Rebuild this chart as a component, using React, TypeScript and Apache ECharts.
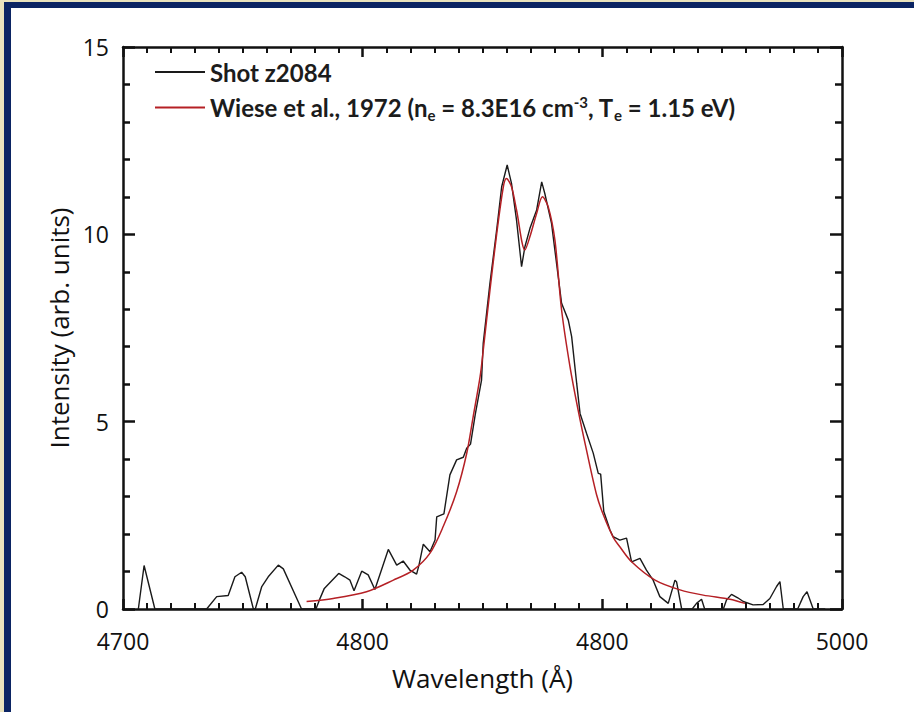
import React, { useEffect, useRef } from "react";
import * as echarts from "echarts";

const shotName = "Shot z2084";
const fitName = "Wiese et al., 1972 (ne = 8.3E16 cm-3, Te = 1.15 eV)";

const xTickValues = [4700, 4800, 4900, 5000];
const xTickLabels = ["4700", "4800", "4800", "5000"];
const yTickLabels = ["0", "5", "10", "15"];

const shotX = [
  4706.4, 4708.8, 4713.3, 4734.9, 4739.1, 4743.9, 4746.7, 4749.5, 4751.0, 4754.4,
  4755.2, 4757.9, 4760.6, 4764.8, 4766.9, 4774.5, 4780.5, 4782.0, 4784.0, 4790.0,
  4792.5, 4794.7, 4796.4, 4799.6, 4802.3, 4805.1, 4810.7, 4814.2, 4816.9, 4819.7,
  4822.5, 4823.5, 4825.3, 4828.1, 4830.2, 4830.9, 4833.9, 4836.4, 4839.2, 4842.0,
  4843.4, 4845.0, 4847.0, 4849.6, 4850.3, 4853.1, 4855.9, 4858.0, 4860.3, 4862.1,
  4864.2, 4866.3, 4867.7, 4869.8, 4872.6, 4874.7, 4876.0, 4878.8, 4881.6, 4883.0,
  4885.8, 4887.2, 4889.3, 4890.7, 4893.4, 4896.2, 4898.3, 4899.3, 4900.6, 4903.2,
  4904.5, 4907.3, 4910.1, 4912.2, 4915.7, 4918.4, 4921.2, 4924.0, 4927.5, 4930.3,
  4931.0, 4933.1, 4937.5, 4939.3, 4941.4, 4942.7, 4950.5, 4951.8, 4953.9, 4956.5,
  4958.8, 4962.9, 4967.1, 4969.9, 4972.7, 4974.1, 4975.5, 4981.5, 4983.8, 4985.4,
  4988.0, 4993.0,
];
const shotY = [
  0, 1.16, 0, 0, 0.33, 0.36, 0.86, 0.98, 0.86, 0,
  0, 0.6, 0.86, 1.17, 1.07, 0, 0, 0.25, 0.55, 0.95,
  0.86, 0.77, 0.49, 1.01, 0.91, 0.52, 1.59, 1.17, 1.28, 1.04,
  0.93, 1.17, 1.73, 1.53, 1.84, 2.46, 2.54, 3.58, 3.98, 4.05,
  4.29, 4.4, 5.2, 6.11, 7.09, 8.69, 10.11, 11.27, 11.85, 11.36,
  10.38, 9.14, 9.67, 10.16, 10.65, 11.4, 11.09, 10.29, 8.87, 8.16,
  7.71, 7.27, 6.02, 5.22, 4.69, 4.16, 3.62, 3.6, 2.6, 2.11,
  1.93, 1.84, 1.89, 1.26, 1.35, 1.04, 0.77, 0.33, 0.15, 0.77,
  0.72, 0, 0, 0.15, 0.26, 0, 0, 0.24, 0.39, 0.3,
  0.2, 0.11, 0.12, 0.28, 0.6, 0.73, 0, 0, 0.33, 0.46,
  0, 0,
];

const fitX = [
  4776.6, 4787.7, 4801.6, 4812.8, 4821.1, 4828.1, 4833.6, 4839.2, 4843.4, 4846.1,
  4849.0, 4850.3, 4853.1, 4855.9, 4858.7, 4860.0, 4862.1, 4864.2, 4867.7, 4869.8,
  4872.6, 4875.0, 4877.4, 4880.2, 4883.0, 4886.5, 4889.9, 4893.4, 4897.6, 4900.5,
  4904.5, 4907.3, 4912.2, 4922.0, 4932.4, 4942.1, 4953.2, 4959.5,
];
const fitY = [
  0.2, 0.28, 0.46, 0.77, 1.04, 1.49, 2.2, 3.13, 4.15, 5.13,
  6.2, 6.9, 8.5, 10.0, 11.27, 11.49, 11.27, 10.65, 9.58, 9.94,
  10.56, 11.0, 10.74, 9.85, 7.98, 6.47, 5.31, 4.24, 3.05, 2.5,
  1.92, 1.66, 1.26, 0.77, 0.51, 0.37, 0.26, 0.15,
];

const labelFont = "'Open Sans', 'DejaVu Sans', sans-serif";
const legendFont = "Lato, 'Open Sans', sans-serif";
const ink = "#111111";

export default function App() {
  const ref = useRef<HTMLDivElement>(null);
  useEffect(() => {
    if (!ref.current) return;
    const chart = echarts.init(ref.current, undefined, { renderer: "svg" });
    const shotData = shotX.map((x, i) => [x, shotY[i]]);
    const fitData = fitX.map((x, i) => [x, fitY[i]]);
    const tick = (len: number, w: number) => ({
      show: true,
      inside: true,
      length: len,
      lineStyle: { color: ink, width: w },
    });
    const minor = (n: number, len: number, w: number) => ({
      show: true,
      splitNumber: n,
      length: len,
      lineStyle: { color: ink, width: w },
    });
    const line = { show: true, onZero: false, lineStyle: { color: ink, width: 2.5 } };
    const legendText = { fontFamily: legendFont, fontWeight: "bold", color: "#1c1c1c" };
    chart.setOption({
      animation: false,
      backgroundColor: "#ffffff",
      graphic: [
        { type: "rect", left: 0, top: 0, shape: { width: 914, height: 3 }, style: { fill: "#e9e2bd" }, z: 100 },
        { type: "rect", left: 0, top: 0, shape: { width: 4, height: 712 }, style: { fill: "#e9e2bd" }, z: 100 },
        { type: "rect", left: 4, top: 2, shape: { width: 910, height: 6 }, style: { fill: "#0b2463" }, z: 101 },
        { type: "rect", left: 4, top: 2, shape: { width: 7, height: 710 }, style: { fill: "#0b2463" }, z: 101 },
      ],
      grid: { left: 123, top: 47, right: 72, bottom: 103, containLabel: false },
      legend: {
        orient: "vertical",
        left: 150,
        top: 55,
        icon: "rect",
        itemWidth: 50,
        itemHeight: 2,
        itemGap: 10,
        data: [
          { name: shotName, itemStyle: { color: "#1a1a1a" } },
          { name: fitName, itemStyle: { color: "#b52025" } },
        ],
        formatter: (name: string) =>
          name === shotName
            ? "{t|Shot z2084}"
            : "{t|Wiese et al., 1972 (n}{sub|e}{t| = 8.3E16 cm}{sup|-3}{t|, T}{sub|e}{t| = 1.15 eV)}",
        textStyle: {
          rich: {
            t: { ...legendText, fontSize: 24, lineHeight: 29 },
            sub: { ...legendText, fontSize: 15, padding: [14, 0, 0, 0] },
            sup: { ...legendText, fontSize: 15, padding: [0, 0, 12, 0] },
          },
        },
      },
      xAxis: [
        {
          type: "value",
          min: 4700,
          max: 5000,
          interval: 100,
          position: "bottom",
          name: "Wavelength (Å)",
          nameLocation: "middle",
          nameGap: 56,
          nameTextStyle: { fontFamily: labelFont, fontSize: 26, color: ink },
          axisLine: line,
          axisTick: tick(10, 2.5),
          minorTick: minor(10, 6, 2),
          axisLabel: {
            margin: 22,
            lineHeight: 20,
            fontFamily: labelFont,
            fontSize: 23,
            color: ink,
            formatter: (v: number) => {
              const i = xTickValues.indexOf(Math.round(v));
              return i >= 0 ? xTickLabels[i] : "";
            },
          },
          splitLine: { show: false },
        },
        {
          type: "value",
          min: 4700,
          max: 5000,
          interval: 100,
          position: "top",
          axisLine: line,
          axisTick: tick(10, 2.5),
          minorTick: minor(10, 6, 2),
          axisLabel: { show: false },
          splitLine: { show: false },
        },
      ],
      yAxis: [
        {
          type: "value",
          min: 0,
          max: 15,
          interval: 5,
          position: "left",
          name: "Intensity (arb. units)",
          nameLocation: "middle",
          nameGap: 51,
          nameTextStyle: { fontFamily: labelFont, fontSize: 26, color: ink },
          axisLine: line,
          axisTick: tick(12, 2.5),
          minorTick: minor(5, 7, 2.5),
          axisLabel: {
            margin: 14,
            lineHeight: 20,
            fontFamily: labelFont,
            fontSize: 23,
            color: ink,
            formatter: (v: number) => yTickLabels[Math.round(v / 5)] ?? "",
          },
          splitLine: { show: false },
        },
        {
          type: "value",
          min: 0,
          max: 15,
          interval: 5,
          position: "right",
          axisLine: line,
          axisTick: tick(12, 2.5),
          minorTick: minor(5, 7, 2.5),
          axisLabel: { show: false },
          splitLine: { show: false },
        },
      ],
      series: [
        {
          name: shotName,
          type: "line",
          xAxisIndex: 0,
          yAxisIndex: 0,
          data: shotData,
          symbol: "none",
          showSymbol: false,
          lineStyle: { color: "#1a1a1a", width: 1.4 },
          itemStyle: { color: "#1a1a1a" },
          z: 2,
        },
        {
          name: fitName,
          type: "line",
          xAxisIndex: 0,
          yAxisIndex: 0,
          data: fitData,
          symbol: "none",
          showSymbol: false,
          smooth: 0.3,
          lineStyle: { color: "#b52025", width: 1.5 },
          itemStyle: { color: "#b52025" },
          z: 3,
        },
      ],
    });
    return () => chart.dispose();
  }, []);
  return (
    <div
      ref={ref}
      style={{ position: "fixed", left: 0, top: 0, width: 914, height: 712, background: "#fff" }}
    />
  );
}
